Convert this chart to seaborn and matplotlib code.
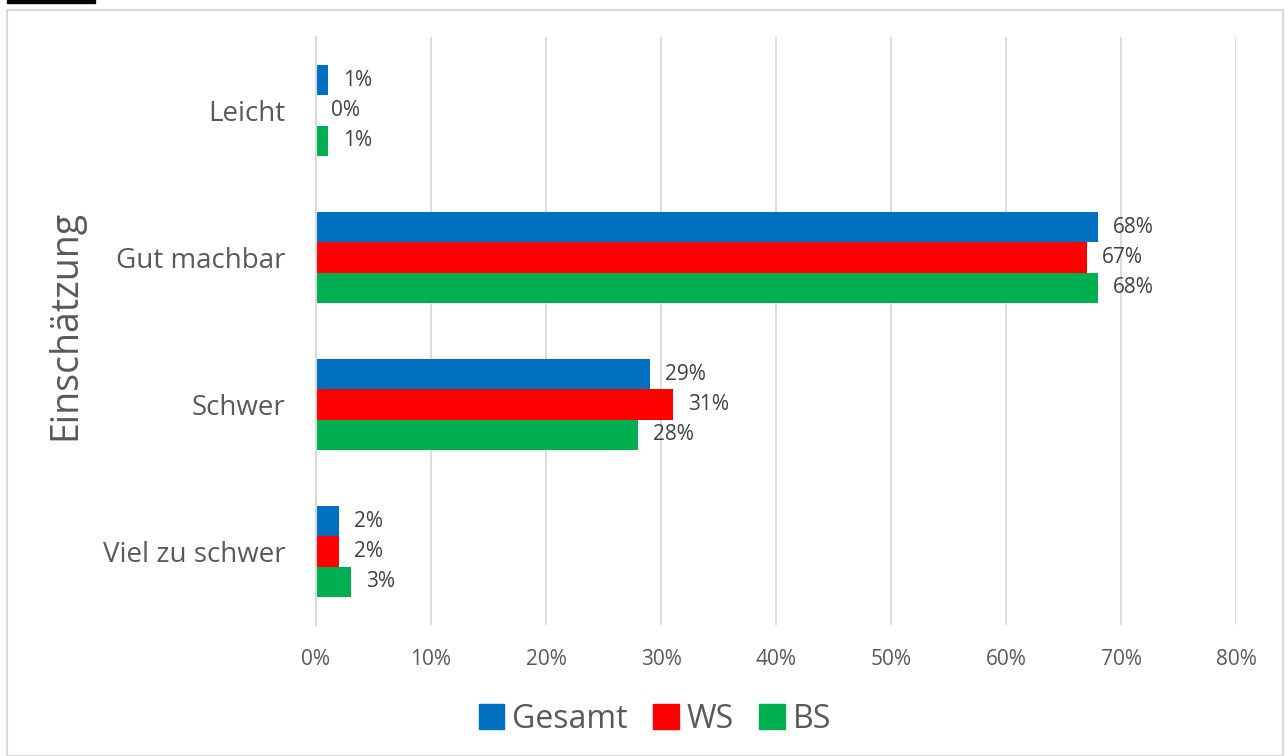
import seaborn as sns
import pandas as pd
import matplotlib.pyplot as plt
from matplotlib.patches import Rectangle

categories = ["Leicht", "Gut machbar", "Schwer", "Viel zu schwer"]
series = ["Gesamt", "WS", "BS"]
gesamt = [1, 68, 29, 2]
ws = [0, 67, 31, 2]
bs = [1, 68, 28, 3]
colors = ["#0070C0", "#FF0000", "#00B050"]

rows = []
for name, vals in zip(series, [gesamt, ws, bs]):
    for cat, v in zip(categories, vals):
        rows.append({"cat": cat, "serie": name, "val": v})
df = pd.DataFrame(rows)

sns.set_style("white")
plt.rcParams["font.family"] = ["Open Sans", "DejaVu Sans"]

fig = plt.figure(figsize=(12.85, 7.56), dpi=100)
ax = fig.add_axes([316 / 1285, 1 - 625 / 756, 920 / 1285, 588 / 756])

sns.barplot(data=df, y="cat", x="val", hue="serie", order=categories,
            hue_order=series, palette=colors, orient="h",
            width=0.62, gap=0, ax=ax, saturation=1, legend=False, linewidth=0)

for cont in ax.containers:
    ax.bar_label(cont, fmt="%d%%", padding=11, fontsize=15, color="#404040")

ax.set_xlim(0, 80)
ax.set_ylim(3.5, -0.5)
ax.set_xticks(range(0, 81, 10))
ax.set_xticklabels([f"{t}%" for t in range(0, 81, 10)], fontsize=15, color="#595959")
ax.tick_params(axis="x", length=0, pad=17)
ax.tick_params(axis="y", length=0, pad=22, labelsize=20, labelcolor="#595959")
ax.xaxis.grid(True, color="#D9D9D9", linewidth=1.3)
ax.set_axisbelow(True)
for s in ["top", "right", "bottom"]:
    ax.spines[s].set_visible(False)
ax.spines["left"].set_color("#D9D9D9")
ax.spines["left"].set_linewidth(1.5)
ax.set_xlabel("")
ax.set_ylabel("Einschätzung", fontsize=27, color="#595959")
ax.yaxis.set_label_coords(-0.252, 0.51)

handles = [Rectangle((0, 0), 1, 1, color=c) for c in colors]
fig.legend(handles, series, loc="center", bbox_to_anchor=(655 / 1285, 1 - 719 / 756),
           ncol=3, frameon=False, fontsize=23, handlelength=0.8, handleheight=0.8,
           handletextpad=0.25, columnspacing=0.8, labelcolor="#595959")

# chart border and clipped header remnant
fig.patches.append(Rectangle((7 / 1285, 0), 1276 / 1285, 1 - 10 / 756, transform=fig.transFigure,
                             fill=False, edgecolor="#D9D9D9", linewidth=1.5))
fig.patches.append(Rectangle((7 / 1285, 1 - 3 / 756), 88 / 1285, 3 / 756, transform=fig.transFigure,
                             color="black"))

plt.savefig("out.png", dpi=100)
